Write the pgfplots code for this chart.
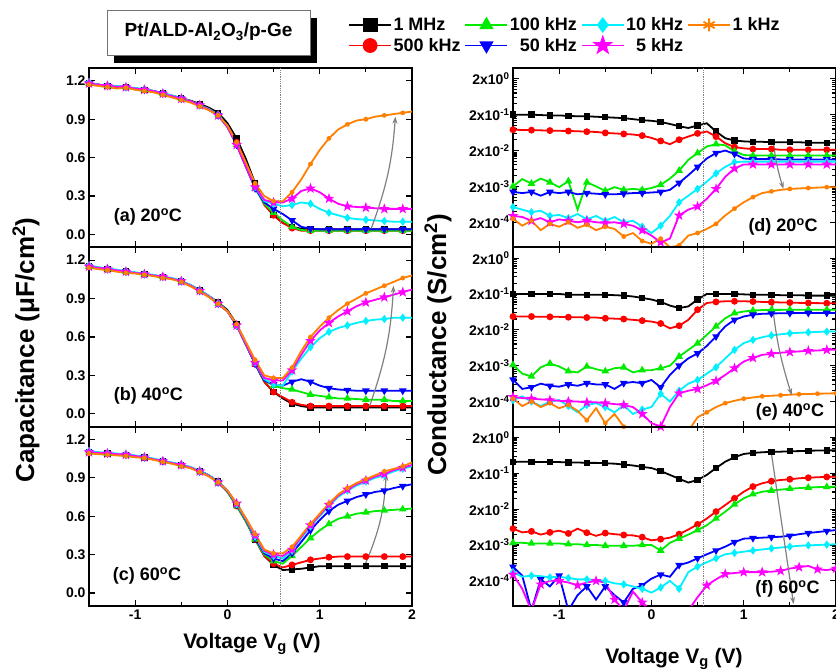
\documentclass[border=0pt]{standalone}
\usepackage{fontspec}
\setmainfont{Liberation Sans}
\usepackage{pgfplots}
\usepackage{pgfplotstable}
\pgfplotsset{compat=1.18}
\usetikzlibrary{arrows.meta}

\definecolor{cgreen}{RGB}{0,235,0}
\definecolor{ccyan}{RGB}{0,240,255}
\definecolor{cmag}{RGB}{255,0,255}
\definecolor{corange}{RGB}{255,128,0}
\definecolor{arrowgray}{RGB}{128,128,128}

% filled five point star
\pgfdeclareplotmark{fstar}{%
  \pgfpathmoveto{\pgfpointpolar{90}{1.25\pgfplotmarksize}}%
  \pgfpathlineto{\pgfpointpolar{126}{0.5\pgfplotmarksize}}%
  \pgfpathlineto{\pgfpointpolar{162}{1.25\pgfplotmarksize}}%
  \pgfpathlineto{\pgfpointpolar{198}{0.5\pgfplotmarksize}}%
  \pgfpathlineto{\pgfpointpolar{234}{1.25\pgfplotmarksize}}%
  \pgfpathlineto{\pgfpointpolar{270}{0.5\pgfplotmarksize}}%
  \pgfpathlineto{\pgfpointpolar{306}{1.25\pgfplotmarksize}}%
  \pgfpathlineto{\pgfpointpolar{342}{0.5\pgfplotmarksize}}%
  \pgfpathlineto{\pgfpointpolar{18}{1.25\pgfplotmarksize}}%
  \pgfpathlineto{\pgfpointpolar{54}{0.5\pgfplotmarksize}}%
  \pgfpathclose
  \pgfusepathqfillstroke
}

\tikzset{plabel/.style={font=\fontsize{18}{18}\selectfont\bfseries}}

\pgfplotsset{
  f1/.style={black, mark=square*, mark size=2.3pt},
  f2/.style={red, mark=*, mark size=2.5pt},
  f3/.style={cgreen, mark=triangle*, mark size=2.7pt},
  f4/.style={blue, mark=triangle*, mark size=2.7pt, mark options={rotate=180}},
  f5/.style={ccyan, mark=diamond*, mark size=2.7pt},
  f6/.style={cmag, mark=fstar, mark size=2.3pt},
  f7/.style={corange, mark=asterisk, mark size=2.3pt},
  panel/.style={
    scale only axis, width=323pt, height=179.3pt,
    xmin=-1.5, xmax=2, xtick={-1,0,1,2}, minor x tick num=1,
    tick align=inside, major tick length=6pt, minor tick length=4pt,
    tick style={line width=1.2pt, black},
    axis line style={line width=1.8pt},
    tick label style={font=\fontsize{14}{14}\selectfont\bfseries},
    /pgf/number format/assume math mode=true,
    every axis plot/.append style={line width=1.8pt, mark repeat=2},
  },
  cpanel/.style={panel, ymin=-0.1, ymax=1.3, ytick={0,0.3,0.6,0.9,1.2},
    yticklabel style={/pgf/number format/.cd, fixed, fixed zerofill, precision=1}},
  gpanel/.style={panel, ymin=4e-5, ymax=4,
    ytick={2e-4,2e-3,2e-2,2e-1,2},
    yticklabels={2x10\textsuperscript{-4},2x10\textsuperscript{-3},2x10\textsuperscript{-2},2x10\textsuperscript{-1},2x10\textsuperscript{0}}},
}

\newcommand{\allplots}[1]{%
  \addplot[f1] table[x=V,y=A]{#1};
  \addplot[f2] table[x=V,y=B]{#1};
  \addplot[f3] table[x=V,y=C]{#1};
  \addplot[f4] table[x=V,y=D]{#1};
  \addplot[f5] table[x=V,y=E]{#1};
  \addplot[f6] table[x=V,y=F]{#1};
}

% capacitance, 20 C
\pgfplotstableread{
V A B C D E F G
-1.5 1.18 1.18 1.18 1.18 1.19 1.18 1.17
-1.4 1.17 1.17 1.17 1.17 1.17 1.17 1.16
-1.3 1.16 1.16 1.16 1.16 1.165 1.16 1.15
-1.2 1.155 1.155 1.155 1.155 1.16 1.155 1.14
-1.1 1.15 1.15 1.15 1.15 1.15 1.15 1.145
-1.0 1.14 1.14 1.14 1.14 1.145 1.14 1.13
-0.9 1.13 1.13 1.13 1.13 1.135 1.13 1.12
-0.8 1.12 1.12 1.12 1.12 1.12 1.12 1.11
-0.7 1.10 1.10 1.10 1.10 1.105 1.10 1.09
-0.6 1.085 1.08 1.08 1.08 1.085 1.08 1.07
-0.5 1.065 1.06 1.06 1.06 1.065 1.06 1.05
-0.4 1.045 1.04 1.04 1.04 1.04 1.04 1.03
-0.3 1.02 1.01 1.01 1.01 1.01 1.01 1.00
-0.2 0.99 0.98 0.975 0.975 0.98 0.975 0.97
-0.1 0.95 0.93 0.93 0.93 0.935 0.93 0.93
0.0 0.87 0.85 0.84 0.84 0.845 0.84 0.85
0.1 0.75 0.72 0.70 0.70 0.71 0.70 0.72
0.2 0.59 0.56 0.53 0.53 0.54 0.53 0.56
0.3 0.40 0.38 0.36 0.36 0.37 0.37 0.40
0.4 0.24 0.23 0.24 0.25 0.26 0.27 0.30
0.5 0.15 0.15 0.17 0.20 0.24 0.25 0.26
0.6 0.09 0.09 0.11 0.16 0.22 0.25 0.26
0.7 0.06 0.05 0.06 0.11 0.23 0.28 0.33
0.8 0.045 0.03 0.035 0.06 0.25 0.34 0.43
0.9 0.04 0.03 0.03 0.045 0.24 0.36 0.55
1.0 0.04 0.03 0.03 0.04 0.20 0.33 0.66
1.1 0.04 0.03 0.03 0.04 0.17 0.28 0.75
1.2 0.04 0.03 0.03 0.04 0.15 0.24 0.82
1.3 0.04 0.03 0.03 0.04 0.13 0.22 0.86
1.4 0.04 0.03 0.03 0.04 0.12 0.215 0.89
1.5 0.04 0.03 0.03 0.04 0.115 0.21 0.90
1.6 0.04 0.03 0.03 0.04 0.11 0.205 0.92
1.7 0.04 0.03 0.03 0.04 0.105 0.20 0.93
1.8 0.04 0.03 0.03 0.04 0.10 0.20 0.94
1.9 0.04 0.03 0.03 0.04 0.10 0.20 0.95
2.0 0.04 0.03 0.03 0.04 0.10 0.20 0.96
}\capA

% capacitance, 40 C
\pgfplotstableread{
V A B C D E F G
-1.5 1.15 1.15 1.15 1.15 1.16 1.15 1.14
-1.4 1.14 1.14 1.14 1.14 1.145 1.14 1.13
-1.3 1.13 1.13 1.13 1.13 1.135 1.13 1.12
-1.2 1.12 1.12 1.12 1.12 1.125 1.12 1.11
-1.1 1.11 1.11 1.11 1.11 1.115 1.11 1.10
-1.0 1.10 1.10 1.10 1.10 1.105 1.10 1.095
-0.9 1.09 1.09 1.09 1.09 1.095 1.09 1.085
-0.8 1.08 1.08 1.08 1.08 1.085 1.08 1.075
-0.7 1.07 1.07 1.07 1.07 1.07 1.07 1.06
-0.6 1.055 1.055 1.055 1.055 1.06 1.055 1.05
-0.5 1.035 1.035 1.035 1.035 1.04 1.035 1.03
-0.4 1.005 1.00 1.00 1.00 1.005 1.00 0.995
-0.3 0.965 0.96 0.96 0.96 0.965 0.96 0.955
-0.2 0.92 0.915 0.915 0.915 0.92 0.915 0.91
-0.1 0.87 0.86 0.86 0.86 0.865 0.86 0.86
0.0 0.81 0.80 0.80 0.80 0.80 0.80 0.80
0.1 0.70 0.69 0.69 0.69 0.69 0.69 0.70
0.2 0.55 0.54 0.54 0.54 0.545 0.545 0.56
0.3 0.39 0.39 0.39 0.39 0.40 0.40 0.42
0.4 0.25 0.25 0.26 0.26 0.27 0.28 0.30
0.5 0.17 0.17 0.22 0.23 0.23 0.26 0.28
0.6 0.12 0.13 0.20 0.22 0.22 0.26 0.28
0.7 0.08 0.09 0.19 0.25 0.33 0.34 0.36
0.8 0.06 0.07 0.17 0.27 0.43 0.46 0.49
0.9 0.05 0.06 0.15 0.25 0.52 0.57 0.60
1.0 0.05 0.06 0.14 0.22 0.59 0.65 0.68
1.1 0.05 0.06 0.13 0.20 0.64 0.71 0.75
1.2 0.05 0.06 0.12 0.19 0.67 0.76 0.81
1.3 0.05 0.06 0.12 0.185 0.69 0.80 0.86
1.4 0.05 0.06 0.115 0.18 0.71 0.84 0.90
1.5 0.05 0.06 0.11 0.18 0.725 0.87 0.94
1.6 0.05 0.06 0.11 0.18 0.735 0.89 0.97
1.7 0.05 0.06 0.11 0.18 0.74 0.91 1.00
1.8 0.05 0.06 0.10 0.18 0.75 0.93 1.03
1.9 0.05 0.06 0.10 0.18 0.75 0.95 1.06
2.0 0.05 0.06 0.10 0.18 0.75 0.97 1.08
}\capB

% capacitance, 60 C
\pgfplotstableread{
V A B C D E F G
-1.5 1.10 1.10 1.10 1.10 1.11 1.10 1.09
-1.4 1.095 1.095 1.095 1.095 1.10 1.095 1.085
-1.3 1.09 1.09 1.09 1.09 1.095 1.09 1.08
-1.2 1.085 1.085 1.085 1.085 1.09 1.085 1.075
-1.1 1.08 1.08 1.08 1.08 1.085 1.08 1.07
-1.0 1.07 1.07 1.07 1.07 1.075 1.07 1.06
-0.9 1.06 1.06 1.06 1.06 1.065 1.06 1.055
-0.8 1.045 1.045 1.045 1.045 1.05 1.045 1.04
-0.7 1.03 1.03 1.03 1.03 1.035 1.03 1.025
-0.6 1.015 1.015 1.015 1.015 1.02 1.015 1.01
-0.5 1.00 1.00 1.00 1.00 1.005 1.00 0.99
-0.4 0.98 0.98 0.98 0.98 0.985 0.98 0.975
-0.3 0.955 0.95 0.95 0.95 0.955 0.95 0.945
-0.2 0.92 0.915 0.915 0.915 0.92 0.915 0.91
-0.1 0.87 0.865 0.865 0.865 0.87 0.865 0.865
0.0 0.80 0.79 0.79 0.795 0.80 0.80 0.80
0.1 0.69 0.68 0.68 0.69 0.695 0.70 0.70
0.2 0.56 0.56 0.56 0.57 0.575 0.58 0.585
0.3 0.42 0.42 0.42 0.43 0.44 0.45 0.46
0.4 0.29 0.29 0.30 0.31 0.32 0.33 0.34
0.5 0.22 0.23 0.25 0.27 0.29 0.30 0.31
0.6 0.18 0.20 0.23 0.25 0.27 0.29 0.31
0.7 0.185 0.22 0.29 0.31 0.33 0.34 0.36
0.8 0.19 0.24 0.36 0.40 0.43 0.44 0.45
0.9 0.20 0.26 0.43 0.49 0.52 0.53 0.54
1.0 0.21 0.27 0.49 0.57 0.60 0.61 0.62
1.1 0.21 0.28 0.54 0.64 0.68 0.69 0.70
1.2 0.21 0.285 0.58 0.69 0.75 0.76 0.77
1.3 0.21 0.285 0.60 0.72 0.80 0.81 0.82
1.4 0.21 0.285 0.62 0.75 0.84 0.85 0.86
1.5 0.21 0.285 0.63 0.77 0.87 0.88 0.89
1.6 0.21 0.285 0.64 0.79 0.90 0.91 0.92
1.7 0.21 0.285 0.645 0.80 0.92 0.93 0.95
1.8 0.21 0.285 0.65 0.82 0.95 0.96 0.97
1.9 0.21 0.285 0.655 0.835 0.97 0.98 0.99
2.0 0.21 0.285 0.66 0.85 0.99 1.00 1.02
}\capC

% conductance, 20 C
\pgfplotstableread{
V A B C D E F G
-1.5 0.20 0.076 2.0e-3 1.4e-3 5.3e-4 3.0e-4 2.5e-4
-1.4 0.20 0.075 3.2e-3 1.3e-3 4.5e-4 2.8e-4 1.6e-4
-1.3 0.20 0.074 2.4e-3 1.4e-3 3.8e-4 2.2e-4 2.2e-4
-1.2 0.195 0.073 3.3e-3 1.1e-3 4.2e-4 2.6e-4 1.2e-4
-1.1 0.19 0.072 2.6e-3 1.4e-3 3.0e-4 2.0e-4 1.8e-4
-1.0 0.19 0.071 1.9e-3 1.3e-3 3.2e-4 2.4e-4 1.5e-4
-0.9 0.185 0.070 2.8e-3 1.4e-3 2.6e-4 2.2e-4 2.0e-4
-0.8 0.18 0.069 4.5e-4 1.2e-3 3.4e-4 2.0e-4 1.4e-4
-0.7 0.18 0.067 2.6e-3 1.3e-3 2.4e-4 2.2e-4 1.7e-4
-0.6 0.175 0.066 2.0e-3 1.25e-3 3.0e-4 2.0e-4 1.2e-4
-0.5 0.17 0.062 1.5e-3 1.2e-3 2.2e-4 1.9e-4 1.5e-4
-0.4 0.165 0.060 1.9e-3 1.2e-3 2.8e-4 2.0e-4 1.3e-4
-0.3 0.16 0.058 1.6e-3 1.25e-3 2.0e-4 1.8e-4 8e-5
-0.2 0.15 0.056 1.7e-3 1.3e-3 2.2e-4 1.6e-4 1.0e-4
-0.1 0.14 0.052 1.6e-3 1.3e-3 1.5e-4 1.2e-4 6e-5
0.0 0.135 0.045 1.8e-3 1.35e-3 1.0e-4 8.5e-5 5e-5
0.1 0.125 0.037 2.2e-3 1.4e-3 1.6e-4 5.5e-5 7e-5
0.2 0.11 0.030 3.3e-3 1.6e-3 3.0e-4 7e-5 4e-5
0.3 0.095 0.040 5.5e-3 2.5e-3 7.2e-4 3.1e-4 4.5e-5
0.4 0.085 0.049 1.1e-2 4.1e-3 1.1e-3 4.5e-4 8.5e-5
0.5 0.10 0.060 1.7e-2 7e-3 1.7e-3 5.5e-4 1.0e-4
0.6 0.115 0.068 2.6e-2 1.2e-2 2.7e-3 9e-4 1.3e-4
0.7 0.068 0.049 3.0e-2 1.7e-2 4.6e-3 1.7e-3 1.8e-4
0.8 0.044 0.032 2.8e-2 2.0e-2 7.0e-3 3.7e-3 3.1e-4
0.9 0.038 0.025 1.9e-2 1.6e-2 9.5e-3 6.3e-3 4.8e-4
1.0 0.036 0.023 1.5e-2 1.2e-2 9.8e-3 8.2e-3 7.2e-4
1.1 0.035 0.022 1.45e-2 1.15e-2 9.8e-3 8.2e-3 1.0e-3
1.2 0.035 0.022 1.45e-2 1.15e-2 9.8e-3 8.2e-3 1.3e-3
1.3 0.034 0.022 1.45e-2 1.15e-2 9.8e-3 8.2e-3 1.45e-3
1.4 0.034 0.021 1.45e-2 1.13e-2 9.8e-3 8.2e-3 1.6e-3
1.5 0.034 0.021 1.45e-2 1.13e-2 9.8e-3 8.2e-3 1.7e-3
1.6 0.034 0.021 1.45e-2 1.13e-2 9.8e-3 8.2e-3 1.75e-3
1.7 0.033 0.021 1.45e-2 1.13e-2 9.8e-3 8.2e-3 1.8e-3
1.8 0.033 0.021 1.45e-2 1.13e-2 9.8e-3 8.2e-3 1.85e-3
1.9 0.033 0.021 1.45e-2 1.13e-2 9.8e-3 8.2e-3 1.9e-3
2.0 0.033 0.021 1.45e-2 1.13e-2 9.8e-3 8.2e-3 1.9e-3
}\conA

% conductance, 40 C
\pgfplotstableread{
V A B C D E F G
-1.5 0.20 0.047 2.1e-3 8.2e-4 2.2e-4 2.7e-4 2.4e-4
-1.4 0.20 0.047 1.2e-3 4.5e-4 2.8e-4 2.5e-4 1.5e-4
-1.3 0.20 0.047 1.0e-3 5.0e-4 2.0e-4 2.4e-4 2.0e-4
-1.2 0.20 0.046 1.8e-3 6.3e-4 1.5e-4 2.3e-4 1.4e-4
-1.1 0.20 0.046 2.3e-3 5.5e-4 2.0e-4 2.2e-4 1.8e-4
-1.0 0.20 0.046 1.9e-3 5.2e-4 2.2e-4 2.1e-4 1.3e-4
-0.9 0.19 0.045 1.4e-3 6.0e-4 1.5e-4 2.0e-4 1.6e-4
-0.8 0.19 0.045 1.3e-3 5.5e-4 1.0e-4 2.0e-4 1.1e-4
-0.7 0.19 0.044 1.9e-3 6.5e-4 1.6e-4 1.9e-4 6e-5
-0.6 0.19 0.044 1.6e-3 6.0e-4 1.8e-4 1.9e-4 1.3e-4
-0.5 0.19 0.042 1.4e-3 6.0e-4 1.4e-4 1.8e-4 5e-5
-0.4 0.185 0.041 1.7e-3 4.5e-4 1.0e-4 1.7e-4 9e-5
-0.3 0.18 0.040 1.8e-3 6.5e-4 1.6e-4 1.6e-4 4e-5
-0.2 0.17 0.038 1.3e-3 7.0e-4 9e-5 1.4e-4 3e-5
-0.1 0.155 0.036 1.5e-3 6.5e-4 1.2e-4 9e-5 3e-5
0.0 0.14 0.034 1.5e-3 8.0e-4 1.4e-4 5e-5 3e-5
0.1 0.12 0.030 1.7e-3 5.0e-4 3.3e-4 4e-5 3e-5
0.2 0.095 0.022 2.0e-3 1.1e-3 2.0e-4 1.4e-4 3e-5
0.3 0.081 0.026 3.6e-3 2.0e-3 4.0e-4 3.4e-4 3e-5
0.4 0.09 0.038 5.5e-3 3.2e-3 6.3e-4 4.0e-4 3e-5
0.5 0.14 0.073 8.4e-3 4.4e-3 8e-4 4.5e-4 7.3e-5
0.6 0.20 0.112 1.45e-2 7.1e-3 1.2e-3 5.7e-4 1.0e-4
0.7 0.20 0.12 2.5e-2 1.3e-2 1.8e-3 7.5e-4 1.4e-4
0.8 0.20 0.125 4.2e-2 2.5e-2 3.2e-3 1.1e-3 1.8e-4
0.9 0.20 0.125 5.8e-2 3.8e-2 5.5e-3 1.7e-3 2.1e-4
1.0 0.195 0.125 6.5e-2 4.7e-2 8.5e-3 2.6e-3 2.4e-4
1.1 0.19 0.123 6.9e-2 5.3e-2 1.05e-2 3.3e-3 2.6e-4
1.2 0.19 0.12 7.1e-2 5.6e-2 1.24e-2 4.0e-3 2.8e-4
1.3 0.19 0.118 7.2e-2 5.7e-2 1.4e-2 4.3e-3 2.9e-4
1.4 0.185 0.116 7.2e-2 5.8e-2 1.5e-2 4.6e-3 3.0e-4
1.5 0.185 0.115 7.3e-2 5.8e-2 1.6e-2 4.8e-3 3.1e-4
1.6 0.185 0.113 7.3e-2 5.9e-2 1.65e-2 5.0e-3 3.2e-4
1.7 0.18 0.112 7.3e-2 5.9e-2 1.7e-2 5.2e-3 3.25e-4
1.8 0.18 0.111 7.3e-2 5.9e-2 1.75e-2 5.3e-3 3.3e-4
1.9 0.18 0.11 7.3e-2 5.9e-2 1.78e-2 5.5e-3 3.35e-4
2.0 0.18 0.11 7.3e-2 5.9e-2 1.8e-2 5.6e-3 3.4e-4
}\conB

% conductance, 60 C (1 kHz lies below the axis range)
\pgfplotstableread{
V A B C D E F
-1.5 0.42 5.7e-3 2.3e-3 4.9e-4 3.5e-4 3.0e-4
-1.4 0.42 4.5e-3 2.3e-3 2.8e-4 2.6e-4 1.2e-4
-1.3 0.42 4.8e-3 2.2e-3 3e-5 2.8e-4 3e-5
-1.2 0.41 3.9e-3 2.2e-3 2.2e-4 2.7e-4 1.6e-4
-1.1 0.41 4.5e-3 2.2e-3 1.4e-4 2.5e-4 2.0e-4
-1.0 0.41 5.0e-3 2.2e-3 2.8e-4 2.6e-4 2.0e-4
-0.9 0.40 4.2e-3 2.1e-3 3e-5 2.4e-4 1.8e-4
-0.8 0.40 5.7e-3 2.1e-3 8e-5 2.2e-4 1.5e-4
-0.7 0.39 4.4e-3 2.0e-3 1.4e-4 2.2e-4 1.8e-4
-0.6 0.39 3.6e-3 2.0e-3 6e-5 2.1e-4 2.0e-4
-0.5 0.38 4.3e-3 1.9e-3 1.4e-4 2.0e-4 1.8e-4
-0.4 0.37 4.0e-3 1.9e-3 8e-5 1.7e-4 6e-5
-0.3 0.35 3.8e-3 1.9e-3 5e-5 1.6e-4 3e-5
-0.2 0.33 3.7e-3 1.9e-3 1.2e-4 1.4e-4 1.0e-4
-0.1 0.30 3.3e-3 2.0e-3 1.5e-4 1.2e-4 5e-5
0.0 0.28 2.7e-3 2.0e-3 2.3e-4 9.4e-5 3e-5
0.1 0.23 2.9e-3 1.4e-3 3.0e-4 1.3e-4 3e-5
0.2 0.18 3.2e-3 2.3e-3 2.6e-4 2.0e-4 3e-5
0.3 0.14 4.0e-3 3.0e-3 5.5e-4 1.2e-4 3e-5
0.4 0.11 5.4e-3 3.9e-3 6.5e-4 3.5e-4 3e-5
0.5 0.13 7.5e-3 5.2e-3 8.5e-4 5.0e-4 7e-5
0.6 0.18 1.09e-2 7.1e-3 1.1e-3 6.6e-4 1.5e-4
0.7 0.28 1.7e-2 1.1e-2 1.4e-3 8.5e-4 2.2e-4
0.8 0.42 2.6e-2 1.7e-2 1.8e-3 1.1e-3 3.1e-4
0.9 0.56 4.0e-2 2.7e-2 2.4e-3 1.2e-3 3.3e-4
1.0 0.69 6.1e-2 4.0e-2 3.0e-3 1.3e-3 3.5e-4
1.1 0.74 8.5e-2 5.2e-2 3.1e-3 1.4e-3 3.5e-4
1.2 0.77 0.105 6.1e-2 3.2e-3 1.5e-3 3.5e-4
1.3 0.79 0.12 6.6e-2 3.3e-3 1.6e-3 3.6e-4
1.4 0.80 0.13 7.0e-2 3.4e-3 1.7e-3 3.8e-4
1.5 0.82 0.136 7.4e-2 3.6e-3 1.8e-3 4.4e-4
1.6 0.83 0.145 7.7e-2 4.0e-3 1.9e-3 4.8e-4
1.7 0.85 0.15 8.0e-2 4.3e-3 1.95e-3 5.2e-4
1.8 0.86 0.155 8.2e-2 4.6e-3 2.0e-3 4.2e-4
1.9 0.87 0.158 8.3e-2 4.9e-3 2.05e-3 4.0e-4
2.0 0.87 0.16 8.4e-2 5.2e-3 2.1e-3 4.4e-4
}\conC

\begin{document}
\begin{tikzpicture}
\path[use as bounding box] (0pt,0pt) rectangle (836pt,-672pt);

% title box with shadow
\fill[black] (114pt,-18pt) rectangle (317pt,-63pt);
\filldraw[fill=white, draw=black!55, line width=0.8pt] (107pt,-10pt) rectangle (310pt,-55pt);
\node[font=\fontsize{19}{19}\selectfont\bfseries] at (208.5pt,-32pt) {Pt/ALD-Al\textsubscript{2}O\textsubscript{3}/p-Ge};

% legend
\begin{axis}[at={(348pt,-16pt)}, anchor=north west, hide axis, scale only axis,
  width=10pt, height=10pt, xmin=0, xmax=1, ymin=0, ymax=1,
  legend image code/.code={\draw[mark repeat=2, mark phase=2, mark size=6.5pt, line width=1.8pt]
    plot coordinates {(0pt,0pt) (21pt,0pt) (42pt,0pt)};},
  legend cell align=right,
  legend style={at={(0,1)}, anchor=north west, draw=none, fill=none, inner sep=0pt,
    font=\fontsize{18}{18}\selectfont\bfseries, legend columns=4, row sep=3pt,
    nodes={inner sep=1.5pt},
    /tikz/every even column/.append style={column sep=2.5pt}}]
\addlegendimage{f1}\addlegendentry{\rlap{1 MHz}\phantom{500 kHz}}
\addlegendimage{f3}\addlegendentry{100 kHz}
\addlegendimage{f5}\addlegendentry{10 kHz}
\addlegendimage{f7}\addlegendentry{1 kHz}
\addlegendimage{f2}\addlegendentry{500 kHz}
\addlegendimage{f4}\addlegendentry{50 kHz}
\addlegendimage{f6}\addlegendentry{5 kHz}
\end{axis}

% ---- capacitance panels ----
\begin{axis}[cpanel, at={(89pt,-68pt)}, anchor=north west, xticklabels={}]
\allplots{\capA}
\addplot[f7] table[x=V,y=G]{\capA};
\draw[gray, densely dotted, line width=0.8pt] (axis cs:0.57,-0.1) -- (axis cs:0.57,1.3);
\draw[arrowgray, line width=1.2pt, -{Stealth[length=7pt,width=5pt]}] (axis cs:1.56,0.05) to[bend right=8] (axis cs:1.82,0.92);
\node[plabel, anchor=base west] at (axis cs:-1.27,0.10) {(a) 20\textsuperscript{o}C};
\end{axis}

\begin{axis}[cpanel, at={(89pt,-247.3pt)}, anchor=north west, xticklabels={}]
\allplots{\capB}
\addplot[f7] table[x=V,y=G]{\capB};
\draw[gray, densely dotted, line width=0.8pt] (axis cs:0.57,-0.1) -- (axis cs:0.57,1.3);
\draw[arrowgray, line width=1.2pt, -{Stealth[length=7pt,width=5pt]}] (axis cs:1.54,0.06) to[bend right=8] (axis cs:1.80,1.00);
\node[plabel, anchor=base west] at (axis cs:-1.27,0.10) {(b) 40\textsuperscript{o}C};
\end{axis}

\begin{axis}[cpanel, at={(89pt,-426.6pt)}, anchor=north west]
\allplots{\capC}
\addplot[f7] table[x=V,y=G]{\capC};
\draw[gray, densely dotted, line width=0.8pt] (axis cs:0.57,-0.1) -- (axis cs:0.57,1.3);
\draw[arrowgray, line width=1.2pt, -{Stealth[length=7pt,width=5pt]}] (axis cs:1.49,0.22) to[bend right=10] (axis cs:1.72,0.93);
\node[plabel, anchor=base west] at (axis cs:-1.28,0.10) {(c) 60\textsuperscript{o}C};
\end{axis}

% ---- conductance panels ----
\begin{axis}[ymode=log, gpanel, at={(513pt,-68pt)}, anchor=north west, xticklabels={}]
\allplots{\conA}
\addplot[f7] table[x=V,y=G]{\conA};
\draw[gray, densely dotted, line width=0.8pt] (axis cs:0.56,4e-5) -- (axis cs:0.56,4);
\draw[arrowgray, line width=1.2pt, -{Stealth[length=7pt,width=5pt]}] (axis cs:1.32,0.036) to[bend right=5] (axis cs:1.43,1.7e-3);
\node[plabel, anchor=base east] at (axis cs:1.84,1.1e-4) {(d) 20\textsuperscript{o}C};
\end{axis}

\begin{axis}[ymode=log, gpanel, at={(513pt,-247.3pt)}, anchor=north west, xticklabels={}]
\allplots{\conB}
\addplot[f7] table[x=V,y=G]{\conB};
\draw[gray, densely dotted, line width=0.8pt] (axis cs:0.56,4e-5) -- (axis cs:0.56,4);
\draw[arrowgray, line width=1.2pt, -{Stealth[length=7pt,width=5pt]}] (axis cs:1.30,0.2) to[bend right=6] (axis cs:1.52,3e-4);
\node[plabel, anchor=base east] at (axis cs:1.91,7.6e-5) {(e) 40\textsuperscript{o}C};
\end{axis}

\begin{axis}[ymode=log, gpanel, at={(513pt,-426.6pt)}, anchor=north west]
\allplots{\conC}
\draw[gray, densely dotted, line width=0.8pt] (axis cs:0.56,4e-5) -- (axis cs:0.56,4);
\draw[arrowgray, line width=1.2pt, -{Stealth[length=7pt,width=5pt]}] (axis cs:1.30,0.72) -- (axis cs:1.54,4.5e-5);
\node[plabel, anchor=base east] at (axis cs:1.86,8.7e-5) {(f) 60\textsuperscript{o}C};
\end{axis}

% axis titles
\node[rotate=90, font=\fontsize{26}{26}\selectfont\bfseries] at (26pt,-350pt) {Capacitance (μF/cm\textsuperscript{2})};
\node[rotate=90, font=\fontsize{26}{26}\selectfont\bfseries] at (438pt,-345pt) {Conductance (S/cm\textsuperscript{2})};
\node[anchor=base, font=\fontsize{21}{21}\selectfont\bfseries] at (252pt,-648pt) {Voltage V\textsubscript{g} (V)};
\node[anchor=base, font=\fontsize{21}{21}\selectfont\bfseries] at (674pt,-663pt) {Voltage V\textsubscript{g} (V)};
\end{tikzpicture}
\end{document}
